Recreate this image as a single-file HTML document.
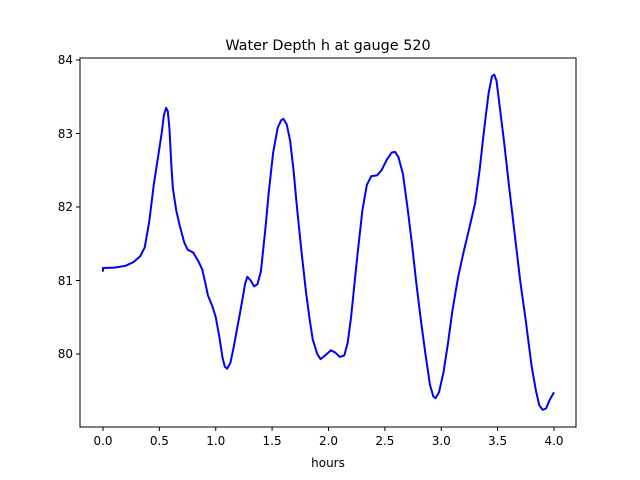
<!DOCTYPE html>
<html><head><meta charset="utf-8"><style>body{margin:0;background:#fff}svg{display:block}text{font-family:"DejaVu Sans","Liberation Sans",sans-serif;font-size:12px;fill:#000}</style></head>
<body>
<svg width="640" height="480" viewBox="0 0 640 480">
<rect width="640" height="480" fill="#fff"/>
<text x="328" y="50" text-anchor="middle" style="font-size:14.4px">Water Depth h at gauge 520</text>
<g transform="translate(103,354) scale(112.75,-73.5)">
<polyline fill="none" stroke="#0000ff" stroke-width="2" vector-effect="non-scaling-stroke" stroke-linejoin="round" points="0,1.12 0,1.17 0.1,1.175 0.2,1.2 0.27,1.25 0.33,1.33 0.37,1.45 0.41,1.8 0.45,2.3 0.49,2.7 0.52,3.0 0.54,3.25 0.56,3.35 0.575,3.3 0.59,3.05 0.605,2.6 0.62,2.25 0.65,1.95 0.68,1.75 0.72,1.52 0.75,1.42 0.8,1.38 0.85,1.25 0.88,1.15 0.91,0.95 0.93,0.8 0.97,0.65 1.0,0.5 1.03,0.25 1.06,-0.05 1.08,-0.17 1.1,-0.2 1.13,-0.12 1.16,0.1 1.22,0.6 1.26,0.95 1.28,1.05 1.31,1.0 1.34,0.92 1.37,0.95 1.4,1.12 1.44,1.7 1.47,2.2 1.51,2.75 1.55,3.08 1.58,3.18 1.6,3.2 1.63,3.12 1.66,2.9 1.69,2.5 1.72,2.0 1.76,1.4 1.8,0.85 1.83,0.5 1.86,0.2 1.9,0.0 1.93,-0.07 1.97,-0.02 2.02,0.05 2.06,0.02 2.1,-0.04 2.14,-0.02 2.17,0.15 2.2,0.5 2.25,1.25 2.3,1.95 2.34,2.3 2.38,2.42 2.43,2.43 2.47,2.5 2.52,2.65 2.56,2.74 2.59,2.75 2.62,2.68 2.66,2.45 2.7,2.0 2.74,1.5 2.78,0.95 2.82,0.45 2.86,0.0 2.9,-0.42 2.93,-0.58 2.95,-0.6 2.98,-0.52 3.02,-0.25 3.06,0.15 3.1,0.6 3.15,1.05 3.2,1.4 3.25,1.72 3.3,2.05 3.34,2.5 3.38,3.05 3.42,3.55 3.45,3.78 3.47,3.8 3.49,3.72 3.52,3.35 3.56,2.85 3.6,2.3 3.65,1.65 3.7,1.0 3.75,0.45 3.8,-0.15 3.84,-0.5 3.87,-0.7 3.9,-0.76 3.93,-0.74 3.96,-0.63 4.0,-0.52"/>
</g>
<rect x="80" y="58" width="496" height="369" fill="none" stroke="#000" stroke-width="1"/>
<g stroke="#000">
<line x1="103" y1="427" x2="103" y2="431"/><line x1="159.4" y1="427" x2="159.4" y2="431"/><line x1="215.75" y1="427" x2="215.75" y2="431"/><line x1="272.1" y1="427" x2="272.1" y2="431"/><line x1="328.5" y1="427" x2="328.5" y2="431"/><line x1="384.9" y1="427" x2="384.9" y2="431"/><line x1="441.25" y1="427" x2="441.25" y2="431"/><line x1="497.6" y1="427" x2="497.6" y2="431"/><line x1="554" y1="427" x2="554" y2="431"/>
<line x1="76" y1="60" x2="80" y2="60"/><line x1="76" y1="133.5" x2="80" y2="133.5"/><line x1="76" y1="207" x2="80" y2="207"/><line x1="76" y1="280.5" x2="80" y2="280.5"/><line x1="76" y1="354" x2="80" y2="354"/>
</g>
<g text-anchor="middle">
<text x="103" y="445">0.0</text><text x="159.4" y="445">0.5</text><text x="215.75" y="445">1.0</text><text x="272.1" y="445">1.5</text><text x="328.5" y="445">2.0</text><text x="384.9" y="445">2.5</text><text x="441.25" y="445">3.0</text><text x="497.6" y="445">3.5</text><text x="554" y="445">4.0</text>
<text x="328" y="467">hours</text>
</g>
<g text-anchor="end">
<text x="73" y="64">84</text><text x="73" y="138">83</text><text x="73" y="211">82</text><text x="73" y="285">81</text><text x="73" y="358">80</text>
</g>
</svg>
</body></html>
